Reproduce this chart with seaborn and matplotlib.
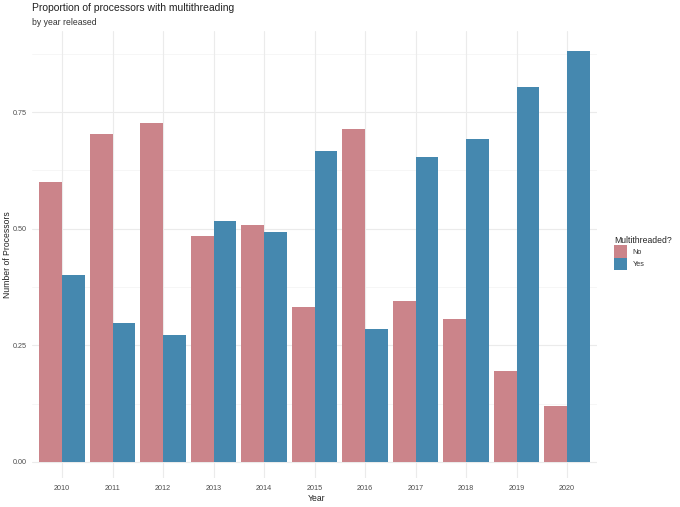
import pandas as pd
import numpy as np
import matplotlib
matplotlib.use("Agg")
import matplotlib.pyplot as plt
import seaborn as sns
from matplotlib.patches import Patch

# proportions
years = ["2010", "2011", "2012", "2013", "2014", "2015", "2016", "2017", "2018", "2019", "2020"]
share_no = [0.600, 0.703, 0.727, 0.484, 0.508, 0.333, 0.714, 0.346, 0.307, 0.196, 0.119]
share_yes = [0.400, 0.297, 0.273, 0.516, 0.492, 0.667, 0.286, 0.654, 0.693, 0.804, 0.881]
groups = ["No", "Yes"]
colors = {"No": "#CB848A", "Yes": "#4588AF"}

df = pd.DataFrame({
    "Year": years * 2,
    "share": share_no + share_yes,
    "Multithreaded?": ["No"] * len(years) + ["Yes"] * len(years),
})

sns.set_theme(style="white")
plt.rcParams["font.family"] = ["Liberation Sans", "DejaVu Sans"]

fig = plt.figure(figsize=(6.8, 5.07), dpi=100)
ax = fig.add_axes([0.0466, 0.0572, 0.832, 0.8817])

sns.barplot(data=df, x="Year", y="share", hue="Multithreaded?", hue_order=groups,
            palette=colors, width=0.9, gap=0, saturation=1, ax=ax,
            edgecolor="none", linewidth=0, legend=False)

ax.set_ylim(-0.0343, 0.924)
ax.set_xlim(-0.6, len(years) - 0.4)

# ggplot minimal style grid
ax.set_axisbelow(True)
ax.set_yticks([0, 0.25, 0.5, 0.75])
ax.set_yticklabels(["0.00", "0.25", "0.50", "0.75"])
for y in [0.125, 0.375, 0.625, 0.875]:
    ax.axhline(y, color="#F3F3F3", lw=0.5, zorder=0)
ax.grid(True, axis="both", color="#EBEBEB", lw=0.8, zorder=0)
for s in ax.spines.values():
    s.set_visible(False)

ax.tick_params(axis="both", length=0, labelsize=5.2, labelcolor="#4D4D4D")
ax.tick_params(axis="x", pad=5.3)
ax.tick_params(axis="y", pad=3.3)
ax.set_xlabel("Year", fontsize=6.2, color="#222222")
ax.set_ylabel("Number of Processors", fontsize=6.2, color="#222222")
ax.xaxis.set_label_coords(0.504, -0.035)
ax.yaxis.set_label_coords(-0.034, 0.5)

fig.text(0.047, 0.9836, "Proportion of processors with multithreading",
         fontsize=7.45, color="#222222", va="center", ha="left")
fig.text(0.047, 0.956, "by year released", fontsize=6.2, color="#333333",
         va="center", ha="left")

handles = [Patch(facecolor=colors[g], edgecolor="none", label=g) for g in groups]
leg = fig.legend(handles=handles, title="Multithreaded?", loc="upper left",
                 bbox_to_anchor=(0.903, 0.5345), frameon=False, fontsize=5.2,
                 title_fontsize=6.2, handlelength=1.8, handleheight=2.3,
                 handletextpad=0.75, labelspacing=0, borderpad=0, borderaxespad=0)
leg._legend_box.align = "left"
for t in leg.get_texts():
    t.set_color("#333333")

fig.savefig("out.png", dpi=100, facecolor="white")
